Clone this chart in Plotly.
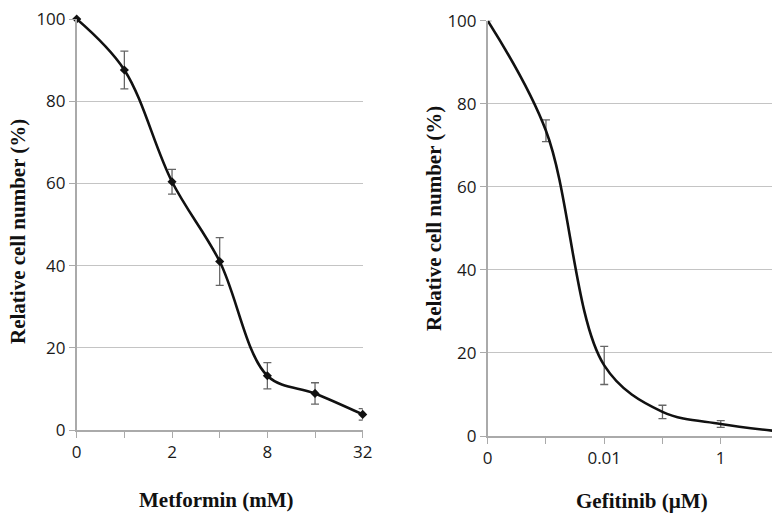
import plotly.graph_objects as go

# Metformin panel
met_labels = ["0", "1", "2", "4", "8", "16", "32"]
met_values = [100, 87.6, 60.4, 41.0, 13.2, 8.9, 3.8]
met_err = [0, 4.6, 3.0, 5.8, 3.2, 2.6, 1.4]
met_ticklabels = ["0", "", "2", "", "8", "", "32"]

# Gefitinib panel (log-spaced doses)
gef_labels = ["0", "0.001", "0.01", "0.1", "1", "10"]
gef_values = [100, 73.5, 17.0, 5.8, 2.9, 1.1]
gef_err = [0, 2.6, 4.6, 1.6, 0.8, 0]
gef_ticklabels = ["0", "", "0.01", "", "1", ""]

W, H = 772, 514
fig = go.Figure()

met_x = list(range(len(met_labels)))
gef_x = list(range(len(gef_labels)))

fig.add_trace(go.Scatter(
    x=met_x, y=met_values, mode="lines+markers",
    line=dict(color="#111111", width=2.6, shape="spline", smoothing=1.0),
    marker=dict(symbol="diamond", size=7, color="#111111"),
    error_y=dict(type="data", array=met_err, visible=True, color="#666666", thickness=1.3, width=4),
    cliponaxis=False, xaxis="x", yaxis="y", showlegend=False))

fig.add_trace(go.Scatter(
    x=gef_x, y=gef_values, mode="lines",
    line=dict(color="#111111", width=2.6, shape="spline", smoothing=1.0),
    error_y=dict(type="data", array=gef_err, visible=True, color="#666666", thickness=1.3, width=4),
    cliponaxis=True, xaxis="x2", yaxis="y2", showlegend=False))

tickfont = dict(family="Open Sans", size=17, color="#1a1a1a")
grid = "#c4c4c4"
common_x = dict(tickmode="array", ticks="outside", ticklen=6, tickcolor="#aaaaaa",
                showgrid=False, zeroline=False, showline=True, linecolor="#aaaaaa",
                linewidth=1.5, tickfont=tickfont, automargin=False)
common_y = dict(range=[0, 100], tickvals=[0, 20, 40, 60, 80, 100], ticks="outside", ticklen=6,
                tickcolor="#aaaaaa", showgrid=True, gridcolor=grid, gridwidth=1.2,
                zeroline=False, showline=True, linecolor="#aaaaaa", linewidth=1.5,
                tickfont=tickfont, automargin=False)

fig.update_layout(
    width=W, height=H, margin=dict(l=0, r=0, t=0, b=0, autoexpand=False),
    paper_bgcolor="white", plot_bgcolor="white",
    xaxis=dict(domain=[76.7 / W, 362.7 / W], range=[0, 6], tickvals=met_x,
               ticktext=met_ticklabels, anchor="y", **common_x),
    yaxis=dict(domain=[1 - 430 / H, 1 - 19 / H], anchor="x", **common_y),
    xaxis2=dict(domain=[487.7 / W, 1.0], range=[0, 4.88], tickvals=gef_x,
                ticktext=gef_ticklabels, anchor="y2", **common_x),
    yaxis2=dict(domain=[1 - 436 / H, 1 - 20.7 / H], anchor="x2", **common_y),
)

titlefont = dict(family="Liberation Serif", size=21, color="#111111")
ann = [
    dict(text="<b>Relative cell number (%)</b>", x=18 / W, y=1 - 232 / H, textangle=-90),
    dict(text="<b>Metformin (mM)</b>", x=216 / W, y=1 - 500 / H, textangle=0),
    dict(text="<b>Relative cell number (%)</b>", x=434 / W, y=1 - 219 / H, textangle=-90),
    dict(text="<b>Gefitinib (µM)</b>", x=642 / W, y=1 - 501 / H, textangle=0),
]
for a in ann:
    fig.add_annotation(xref="paper", yref="paper", xanchor="center", yanchor="middle",
                       showarrow=False, font=titlefont, **a)

fig.write_html("out.html")
